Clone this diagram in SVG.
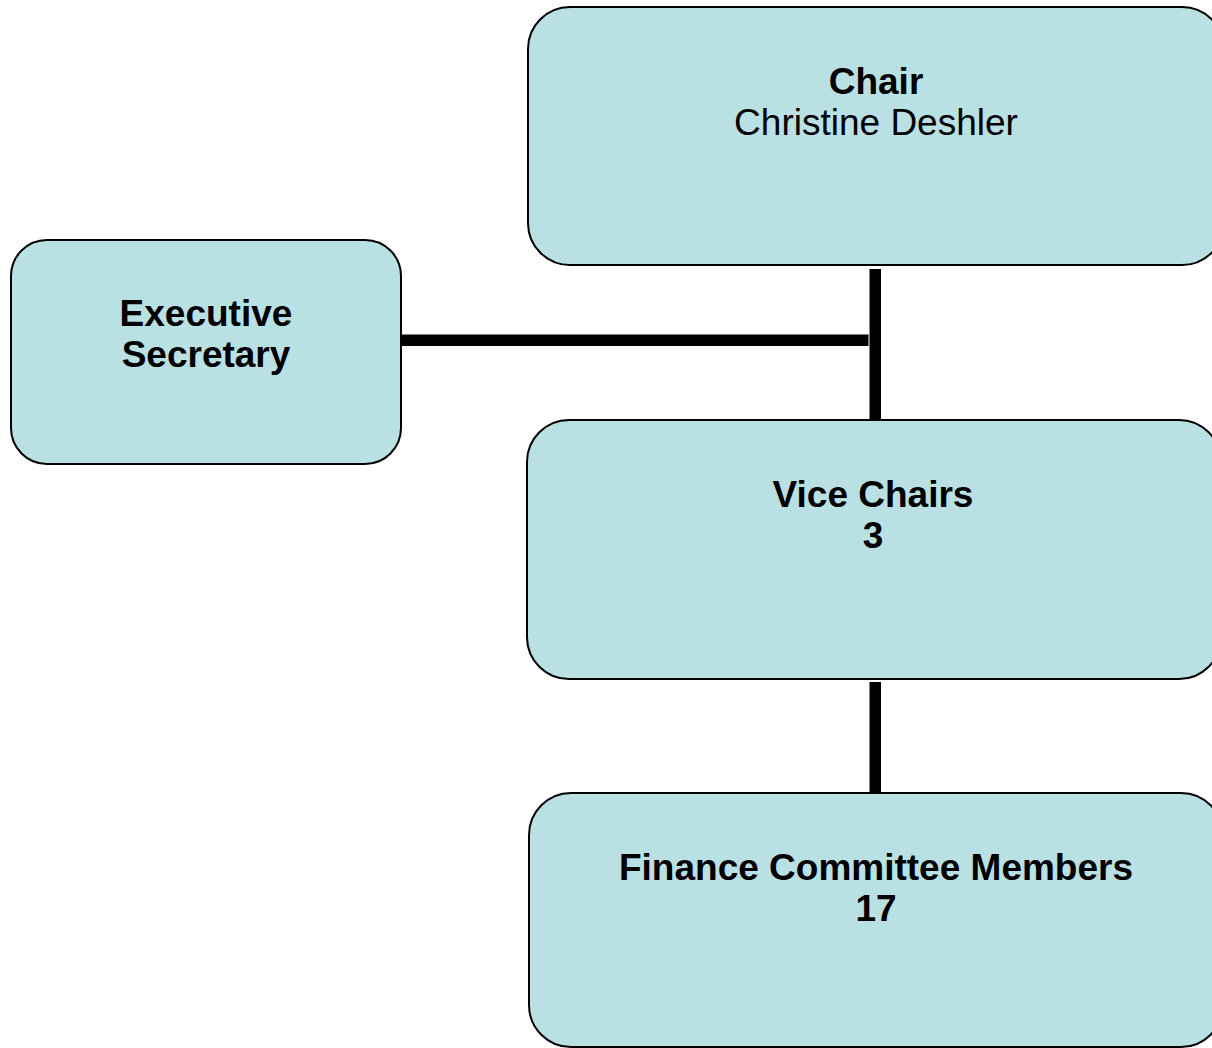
<svg xmlns="http://www.w3.org/2000/svg" width="1212" height="1048" viewBox="0 0 1212 1048">
<style>
.box{fill:#b9e0e3;stroke:#000;stroke-width:2}
.t{font-family:"Liberation Sans",Arial,sans-serif;font-size:37px;fill:#000;text-anchor:middle}
.b{font-weight:bold}
.conn{fill:#000}
</style>
<rect width="1212" height="1048" fill="#fff"/>
<g id="connectors">
<rect class="conn" x="869.5" y="269" width="11.5" height="150"/>
<rect class="conn" x="401" y="334.5" width="467.5" height="11.5"/>
<rect class="conn" x="869.5" y="682" width="11.5" height="115"/>
</g>
<g id="chair">
<rect class="box" x="528" y="7" width="696" height="258" rx="42" ry="42"/>
<text class="t b" x="876" y="94">Chair</text>
<text class="t" x="876" y="135">Christine Deshler</text>
</g>
<g id="executive-secretary">
<rect class="box" x="11" y="240" width="390" height="224" rx="36" ry="36"/>
<text class="t b" x="206" y="326">Executive</text>
<text class="t b" x="206" y="367">Secretary</text>
</g>
<g id="vice-chairs">
<rect class="box" x="527" y="420" width="694" height="259" rx="42" ry="42"/>
<text class="t b" x="873" y="507">Vice Chairs</text>
<text class="t b" x="873" y="548">3</text>
</g>
<g id="finance-committee">
<rect class="box" x="529" y="793" width="694" height="254" rx="42" ry="42"/>
<text class="t b" x="876" y="880">Finance Committee Members</text>
<text class="t b" x="876" y="921">17</text>
</g>
</svg>
